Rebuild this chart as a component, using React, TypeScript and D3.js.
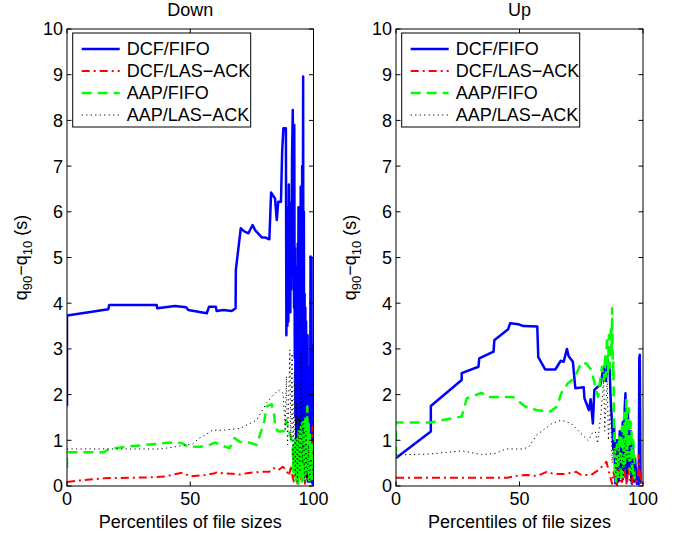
import React from "react";
import * as d3 from "d3";

type Pt = [number, number];

const xTicks = [0, 50, 100];
const yTicks = [0, 1, 2, 3, 4, 5, 6, 7, 8, 9, 10];
const seriesNames = ["DCF/FIFO", "DCF/LAS\u2212ACK", "AAP/FIFO", "AAP/LAS\u2212ACK"];
const panelTitles = ["Down", "Up"];

// Down panel
const downDcfFifo: Pt[] = [
  [0, 1.75], [0, 3.73], [16.8, 3.87], [17.1, 3.96], [36.4, 3.96], [36.6, 3.89], [43.8, 3.94], [48.3, 3.91],
  [49.2, 3.85], [56.7, 3.78], [57.6, 3.92], [60.4, 3.92], [60.7, 3.83], [63.4, 3.85], [66.8, 3.83], [68.4, 3.89],
  [68.5, 4.73], [70.5, 5.64], [71.9, 5.57], [73.6, 5.53], [75.3, 5.71], [76.3, 5.6], [79, 5.44], [80.3, 5.44],
  [82.1, 5.4], [82.8, 6.42], [84.4, 6.29], [85.1, 5.82], [85.7, 6.22], [86.8, 6.22], [87.3, 7.35], [87.8, 7.83],
  [88.8, 7.83], [89.0, 3.3], [89.2, 6.1], [89.4, 3.5], [89.6, 5.4], [89.8, 3.6], [90.0, 6.6], [90.2, 4.1],
  [90.4, 5.0], [90.6, 3.8], [90.8, 6.2], [91.0, 4.3], [91.3, 7.2], [91.6, 8.23], [91.8, 6.0], [91.9, 7.0],
  [92.1, 3.9], [92.2, 7.9], [92.4, 2.8], [92.5, 5.2], [92.7, 1.5], [92.8, 4.2], [93.0, 0.6], [93.1, 4.8],
  [93.3, 1.8], [93.5, 0.1], [93.6, 5.3], [93.8, 2.2], [93.9, 6.1], [94.1, 1.0], [94.2, 5.8], [94.4, 0.3],
  [94.5, 6.0], [94.7, 2.0], [94.8, 6.55], [95.0, 1.2], [95.1, 5.4], [95.3, 0.4], [95.4, 7.0], [95.6, 3.0],
  [95.8, 8.96], [95.9, 2.2], [96.1, 6.0], [96.2, 0.3], [96.4, 4.2], [96.5, 1.4], [96.7, 3.9], [96.8, 0.5],
  [97.0, 3.6], [97.1, 0.2], [97.3, 2.9], [97.4, 0.6], [97.6, 3.3], [97.7, 0.1], [97.9, 2.6], [98.0, 0.1],
  [98.2, 2.4], [98.3, 0.4], [98.5, 1.8], [98.6, 0.1], [98.8, 5.02], [98.9, 0.2], [99.2, 5.0], [99.3, 0.1],
  [99.5, 3.1], [99.6, 0.05], [99.8, 2.0], [100, 0.05],
];
const downDcfLas: Pt[] = [
  [0, 0.09], [5, 0.12], [15, 0.17], [25, 0.18], [35, 0.19], [40, 0.21], [43, 0.25], [47, 0.29], [50, 0.21],
  [56, 0.24], [60, 0.28], [61, 0.31], [63, 0.28], [67, 0.27], [70, 0.25], [73, 0.28], [78, 0.31], [82, 0.31],
  [84, 0.39], [85.5, 0.34], [87.5, 0.42], [89, 0.35], [90, 0.22], [91, 0.45], [91.5, 0.2], [92, 0.1], [92.5, 0.4],
  [93, 0.3], [93.5, 0.05], [94, 0.3], [94.5, 0.35], [95, 0.1], [95.4, 0.45], [95.8, 0.25], [96.2, 0.6],
  [96.5, 0.05], [97, 0.4], [97.5, 0.15], [98, 0.5], [98.3, 0.9], [98.5, 0.1], [99, 0.8], [99.3, 0.3],
  [99.6, 1.3], [99.8, 0.6], [100, 1.0],
];
const downAapFifo: Pt[] = [
  [0, 0.4], [0, 0.74], [15, 0.74], [17, 0.81], [24, 0.86], [36, 0.92], [44, 0.96], [47, 0.93], [49, 0.86],
  [54, 0.86], [57, 0.88], [60, 0.95], [63, 0.88], [66, 0.83], [68, 1.05], [70, 0.97], [74, 0.95], [77, 0.9],
  [80, 1.41], [81, 1.74], [83, 1.79], [84, 1.59], [84.5, 1.26], [86, 1.19], [88, 1.2], [89, 1.44], [90, 1.22],
  [91.5, 0.93], [91.8, 0.3], [92, 0.9], [92.3, 0.4], [92.5, 1.0], [92.8, 0.1], [93, 1.1], [93.3, 0.2],
  [93.5, 0.8], [93.8, 0.05], [94, 1.2], [94.3, 0.2], [94.5, 1.1], [94.8, 0.3], [95, 1.3], [95.3, 0.1],
  [95.5, 1.4], [95.8, 0.5], [96, 1.2], [96.3, 0.1], [96.5, 1.5], [96.8, 0.4], [97, 1.3], [97.3, 0.2],
  [97.5, 1.74], [97.8, 0.4], [98, 1.4], [98.3, 0.1], [98.5, 1.2], [98.8, 0.2], [99, 0.9], [99.3, 0.1],
  [99.5, 0.9], [100, 0.3],
];
const downAapLas: Pt[] = [
  [0, 0.81], [38, 0.81], [44, 0.86], [51, 0.92], [53.5, 1.04], [55, 1.08], [59, 1.22], [63.4, 1.22],
  [70.2, 1.26], [76.9, 1.44], [81, 1.82], [83, 1.95], [85.7, 2.1], [87.7, 2.03], [88.5, 1.2], [89, 2.4],
  [89.5, 0.9], [90.4, 2.98], [90.8, 1.0], [91.3, 2.9], [91.7, 0.5], [92.2, 2.5], [92.6, 0.2], [93, 1.8],
  [93.3, 0.6], [93.5, 0.1], [94, 1.5], [94.3, 0.4], [94.5, 0.3], [95, 3.0], [95.3, 0.8], [95.5, 0.5],
  [96, 2.0], [96.3, 0.2], [96.5, 0.1], [97, 1.2], [97.3, 0.2], [97.5, 0.3], [98, 0.9], [98.3, 0.2],
  [98.5, 0.1], [99, 0.6], [100, 0.2],
];

// Up panel
const upDcfFifo: Pt[] = [
  [0, 0.61], [14.1, 1.19], [14.1, 1.75], [26.6, 2.32], [26.6, 2.47], [33.4, 2.61], [33.7, 2.79], [39.5, 2.94],
  [39.8, 3.19], [45.4, 3.43], [46.2, 3.56], [49.6, 3.54], [51.6, 3.5], [57.2, 3.49], [57.6, 2.82], [60.4, 2.55],
  [64.5, 2.55], [66.7, 2.74], [67.9, 2.72], [69.2, 3.0], [69.9, 2.84], [71.6, 2.72], [72.6, 2.14], [76, 2.16],
  [76.3, 1.92], [78.1, 1.66], [78.8, 1.9], [79.7, 1.37], [80.3, 2.1], [81.6, 2.17], [82.7, 2.2], [84.1, 2.61],
  [85.0, 2.3], [85.7, 2.76], [86.5, 2.54], [86.9, 1.9], [87.5, 1.37], [88.0, 0.8], [88.3, 1.3], [88.8, 0.06],
  [89.2, 0.7], [89.5, 1.0], [90.0, 0.1], [90.3, 0.9], [90.6, 1.2], [91.0, 0.3], [91.2, 0.2], [91.5, 1.1],
  [91.8, 1.4], [92.1, 0.3], [92.3, 0.5], [92.6, 1.7], [92.9, 2.03], [93.2, 0.6], [93.4, 0.1], [93.7, 1.3],
  [93.9, 1.6], [94.2, 0.4], [94.4, 0.3], [94.7, 1.0], [95.0, 1.2], [95.3, 0.2], [95.5, 0.05], [95.8, 0.9],
  [96.0, 0.8], [96.3, 0.1], [96.5, 0.1], [96.8, 0.6], [97, 0.4], [97.5, 0.05], [98.3, 0.05], [98.5, 2.8],
  [98.7, 2.87], [99.0, 0.1], [99.3, 0.05],
];
const upDcfLas: Pt[] = [
  [0, 0.18], [14, 0.18], [30, 0.18], [45, 0.18], [49.6, 0.23], [53, 0.24], [57, 0.22], [61, 0.31], [64, 0.26],
  [68, 0.26], [73, 0.31], [75, 0.24], [79, 0.24], [82, 0.35], [84, 0.46], [85.2, 0.53], [86, 0.35], [87.5, 0.05],
  [88.0, 0.3], [88.5, 0.2], [89.0, 0.5], [89.5, 0.02], [90.0, 0.35], [90.5, 0.25], [91.0, 0.05], [91.5, 0.05],
  [92.0, 0.4], [92.5, 0.3], [93.0, 0.1], [93.5, 0.02], [94.0, 0.45], [94.5, 0.2], [95.0, 0.05], [95.5, 0.05],
  [96.0, 0.35], [96.5, 0.3], [97.0, 0.1], [97.5, 0.05], [98.0, 0.3], [98.3, 0.68], [98.8, 0.05], [99.3, 0.3],
];
const upAapFifo: Pt[] = [
  [0, 0.64], [0, 1.39], [13.8, 1.39], [26.6, 1.52], [28.7, 1.92], [34.7, 2.04], [36.7, 1.95], [47.3, 1.95],
  [52.3, 1.74], [57, 1.66], [62.5, 1.63], [65.2, 1.74], [66.9, 2.03], [69.6, 2.25], [72.3, 2.36], [75, 2.7],
  [77, 2.68], [79.1, 2.54], [80.4, 2.25], [81.8, 1.95], [83.4, 2.61], [84.2, 2.3], [84.7, 2.9], [85.0, 2.4],
  [85.4, 3.27], [85.8, 2.5], [86.2, 3.3], [86.6, 2.6], [87.0, 3.5], [87.3, 2.9], [87.5, 3.89], [87.8, 2.4],
  [88.0, 2.7], [88.3, 1.0], [88.5, 1.2], [88.8, 0.2], [89.0, 0.1], [89.2, 0.8], [89.5, 0.9], [89.8, 0.2],
  [90.0, 0.2], [90.3, 1.1], [90.5, 1.0], [90.8, 0.3], [91.0, 0.1], [91.3, 1.2], [91.5, 1.3], [91.8, 0.2],
  [92.0, 0.4], [92.3, 1.5], [92.5, 1.6], [92.8, 0.5], [93.3, 1.88], [93.6, 1.0], [93.8, 0.6], [94.0, 1.5],
  [94.3, 1.7], [94.5, 0.6], [94.8, 0.3], [95.0, 1.4], [95.3, 1.3], [95.5, 0.4], [95.8, 0.2], [96.0, 1.0],
  [96.3, 0.8], [96.6, 0.1], [96.8, 0.05],
];
const upAapLas: Pt[] = [
  [0, 0.68], [13.8, 0.7], [26.6, 0.77], [34.5, 0.69], [40.1, 0.71], [44.5, 0.81], [51.5, 0.81], [53.8, 0.86],
  [57, 1.12], [63.2, 1.37], [66.9, 1.44], [70.9, 1.37], [74.9, 1.15], [77.9, 0.99], [79.3, 1.15], [80.7, 1.19],
  [81.6, 0.93], [83, 1.6], [84.1, 2.32], [84.5, 1.2], [85.5, 2.3], [86.0, 1.0], [86.8, 1.8], [87.5, 0.5],
  [88.0, 1.0], [88.5, 0.9], [89.0, 0.2], [89.5, 0.8], [90, 0.9], [90.5, 0.1], [91.0, 0.7], [91.5, 0.8],
  [92, 0.1], [92.5, 0.9], [93, 1.0], [93.5, 0.2], [94.0, 0.7], [94.5, 0.8], [95, 0.1], [95.5, 0.5], [96, 0.6],
  [97, 0.1],
];

const panelData: Pt[][][] = [
  [downDcfFifo, downDcfLas, downAapFifo, downAapLas],
  [upDcfFifo, upDcfLas, upAapFifo, upAapLas],
];

const styles = [
  { color: "#0000ff", width: 2.5, dash: "none" },
  { color: "#ff0000", width: 2, dash: "8,4,2,4" },
  { color: "#00ff00", width: 2.5, dash: "10,6" },
  { color: "#000000", width: 1, dash: "1.2,3.3" },
];

const W = 677;
const H = 533;
const TOP = 29;
const BOTTOM = 486;
const panelX: [number, number][] = [
  [67, 313.5],
  [396, 643],
];
const FONT = "'Liberation Sans', Arial, Helvetica, sans-serif";
const FS = 18;

function Panel({ idx }: { idx: number }) {
  const [x0, x1] = panelX[idx];
  const x = d3.scaleLinear().domain([0, 100]).range([x0, x1]);
  const y = d3.scaleLinear().domain([0, 10]).range([BOTTOM, TOP]);
  const line = d3
    .line<Pt>()
    .x((d) => x(d[0]))
    .y((d) => y(d[1]));
  const tl = 4.5;
  const clipId = `clip${idx}`;
  const lx = x0 + 5.7;
  const ly = 33;
  const cy = (TOP + BOTTOM) / 2;
  return (
    <g fontFamily={FONT} fontSize={FS}>
      <defs>
        <clipPath id={clipId}>
          <rect x={x0} y={TOP} width={x1 - x0} height={BOTTOM - TOP} />
        </clipPath>
      </defs>
      <g clipPath={`url(#${clipId})`}>
        {panelData[idx].map((data, i) => (
          <path
            key={i}
            d={line(data) || ""}
            fill="none"
            stroke={styles[i].color}
            strokeWidth={styles[i].width}
            strokeDasharray={styles[i].dash}
            strokeLinejoin="round"
          />
        ))}
      </g>
      <rect x={x0} y={TOP} width={x1 - x0} height={BOTTOM - TOP} fill="none" stroke="#000" strokeWidth={1} />
      {xTicks.map((t) => (
        <g key={"x" + t}>
          <line x1={x(t)} x2={x(t)} y1={BOTTOM} y2={BOTTOM - tl} stroke="#000" />
          <line x1={x(t)} x2={x(t)} y1={TOP} y2={TOP + tl} stroke="#000" />
          <text x={x(t)} y={505} textAnchor="middle">
            {t}
          </text>
        </g>
      ))}
      {yTicks.map((t) => (
        <g key={"y" + t}>
          <line x1={x0} x2={x0 + tl} y1={y(t)} y2={y(t)} stroke="#000" />
          <line x1={x1} x2={x1 - tl} y1={y(t)} y2={y(t)} stroke="#000" />
          <text x={x0 - 4} y={y(t)} dy="0.36em" textAnchor="end">
            {t}
          </text>
        </g>
      ))}
      <text x={(x0 + x1) / 2} y={16} textAnchor="middle">
        {panelTitles[idx]}
      </text>
      <text x={(x0 + x1) / 2} y={528} textAnchor="middle">
        Percentiles of file sizes
      </text>
      <text transform={`translate(${x0 - 40},${cy}) rotate(-90)`} textAnchor="middle">
        <tspan>q</tspan>
        <tspan fontSize={13} dy={5}>90</tspan>
        <tspan dy={-5}>{"\u2212q"}</tspan>
        <tspan fontSize={13} dy={5}>10</tspan>
        <tspan dy={-5}>{" (s)"}</tspan>
      </text>
      <rect x={lx} y={ly} width={178} height={94} fill="#fff" stroke="#000" strokeWidth={1} />
      {seriesNames.map((n, i) => {
        const yy = ly + 16 + i * 22;
        return (
          <g key={n}>
            <line
              x1={lx + 9}
              x2={lx + 47}
              y1={yy}
              y2={yy}
              stroke={styles[i].color}
              strokeWidth={styles[i].width}
              strokeDasharray={styles[i].dash}
            />
            <text x={lx + 54} y={yy} dy="0.36em">
              {n}
            </text>
          </g>
        );
      })}
    </g>
  );
}

export default function App() {
  return (
    <svg
      width={W}
      height={H}
      viewBox={`0 0 ${W} ${H}`}
      style={{ position: "absolute", left: 0, top: 0, background: "#fff" }}
    >
      <rect width={W} height={H} fill="#fff" />
      <Panel idx={0} />
      <Panel idx={1} />
    </svg>
  );
}
